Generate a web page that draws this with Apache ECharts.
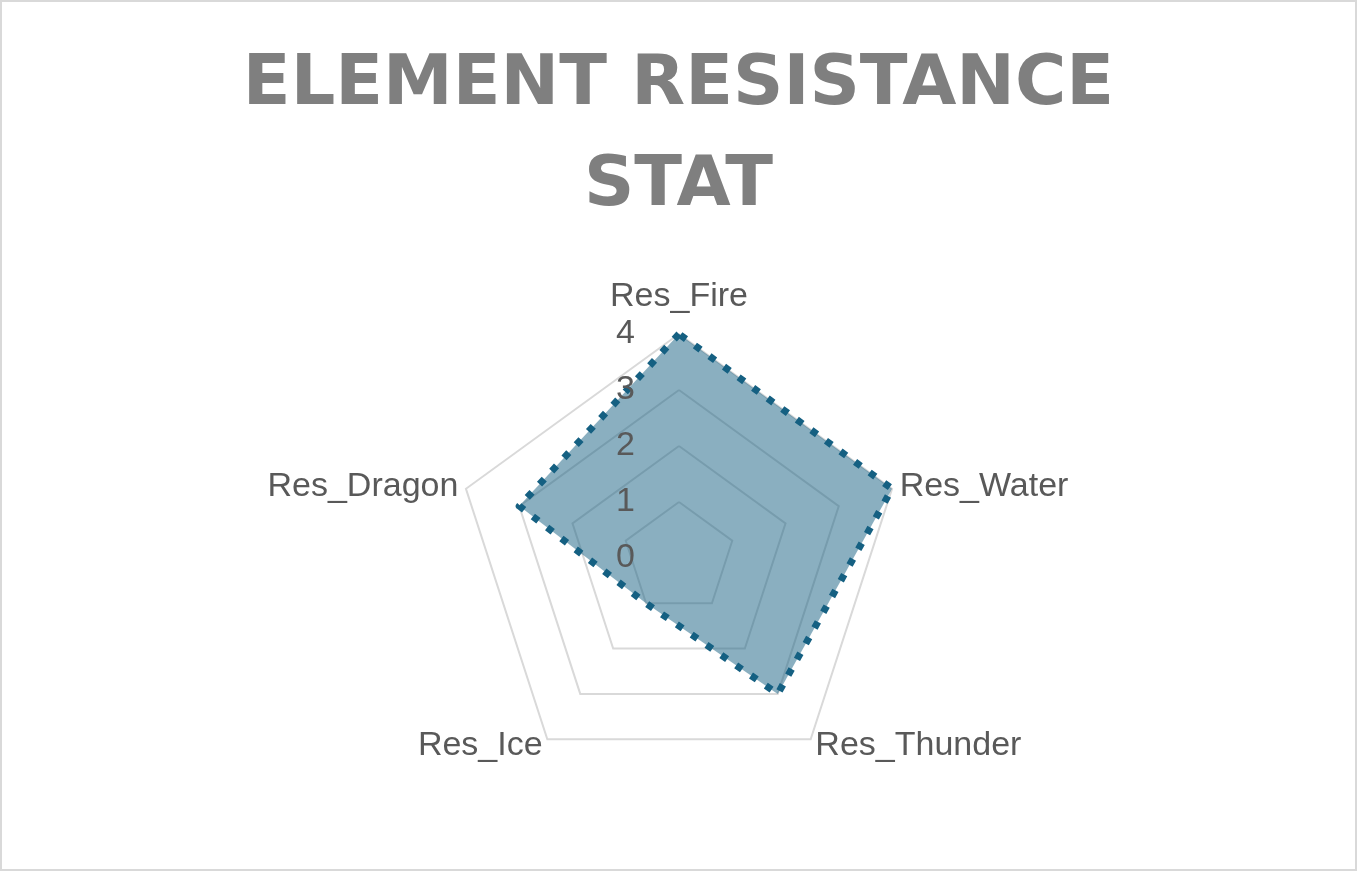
<!DOCTYPE html>
<html>
<head>
<meta charset="utf-8">
<script src="https://cdn.jsdelivr.net/npm/echarts@6/dist/echarts.min.js"></script>
<style>
  html, body { margin: 0; padding: 0; background: #ffffff; }
  #chart { position: absolute; left: 0; top: 0; width: 1357px; height: 871px; }
  #frame { position: absolute; left: 0; top: 0; width: 1357px; height: 871px; box-sizing: border-box; border: 2px solid #d9d9d9; pointer-events: none; }
</style>
</head>
<body>
<div id="chart"></div>
<div id="frame"></div>
<script>
const titleText = 'ELEMENT RESISTANCE\nSTAT';
const categories = ['Res_Fire', 'Res_Water', 'Res_Thunder', 'Res_Ice', 'Res_Dragon'];
const values = [4, 4, 3, 1, 3];
const axisMax = 4;
const tickLabels = ['0', '1', '2', '3', '4'];

// ECharts lays indicators counter-clockwise; the reference goes clockwise,
// so keep the first one on top and reverse the rest.
const order = [0].concat(categories.slice(1).map(function (_, i) { return categories.length - 1 - i; }));
const orderedCats = order.map(function (i) { return categories[i]; });
const orderedVals = order.map(function (i) { return values[i]; });

const labelFont = 'Liberation Sans';
function makeIndicators(withTicks) {
  return orderedCats.map(function (name, i) {
    const ind = { name: name, min: 0, max: axisMax };
    if (i === 0) {
      ind.nameGap = 20;
      if (withTicks) ind.axisLabel = { show: true };
    }
    return ind;
  });
}

const baseRadar = {
  center: [679, 558],
  radius: 224,
  startAngle: 90,
  splitNumber: 4,
  shape: 'polygon',
  nameGap: 8,
  axisLine: { show: false },
  axisTick: { show: false },
  splitArea: { show: false }
};

const chart = echarts.init(document.getElementById('chart'), null, { renderer: 'canvas' });
chart.setOption({
  backgroundColor: '#ffffff',
  animation: false,
  title: {
    text: titleText,
    left: 'center',
    top: 35,
    padding: 0,
    textStyle: {
      fontFamily: 'DejaVu Sans',
      fontWeight: 'bold',
      fontSize: 70,
      lineHeight: 101,
      color: '#7f7f7f'
    }
  },
  radar: [
    Object.assign({}, baseRadar, {
      z: 1,
      indicator: makeIndicators(false),
      axisName: { color: '#595959', fontFamily: labelFont, fontSize: 34 },
      axisLabel: { show: false },
      splitLine: { lineStyle: { color: '#d9d9d9', width: 2 } }
    }),
    Object.assign({}, baseRadar, {
      z: 5,
      indicator: makeIndicators(true),
      axisName: { show: false },
      axisLabel: {
        show: false,
        color: '#595959',
        fontFamily: labelFont,
        fontSize: 34,
        margin: 44,
        formatter: function (v) { const t = tickLabels[Math.round(v)]; return t !== undefined ? t : String(v); }
      },
      splitLine: { show: false }
    })
  ],
  series: [{
    type: 'radar',
    radarIndex: 0,
    z: 2,
    symbol: 'none',
    data: [{ value: orderedVals, name: 'Resistance' }],
    lineStyle: { color: '#156082', width: 7, type: [7, 11], cap: 'butt' },
    areaStyle: { color: '#156082', opacity: 0.5 }
  }]
});
</script>
</body>
</html>
